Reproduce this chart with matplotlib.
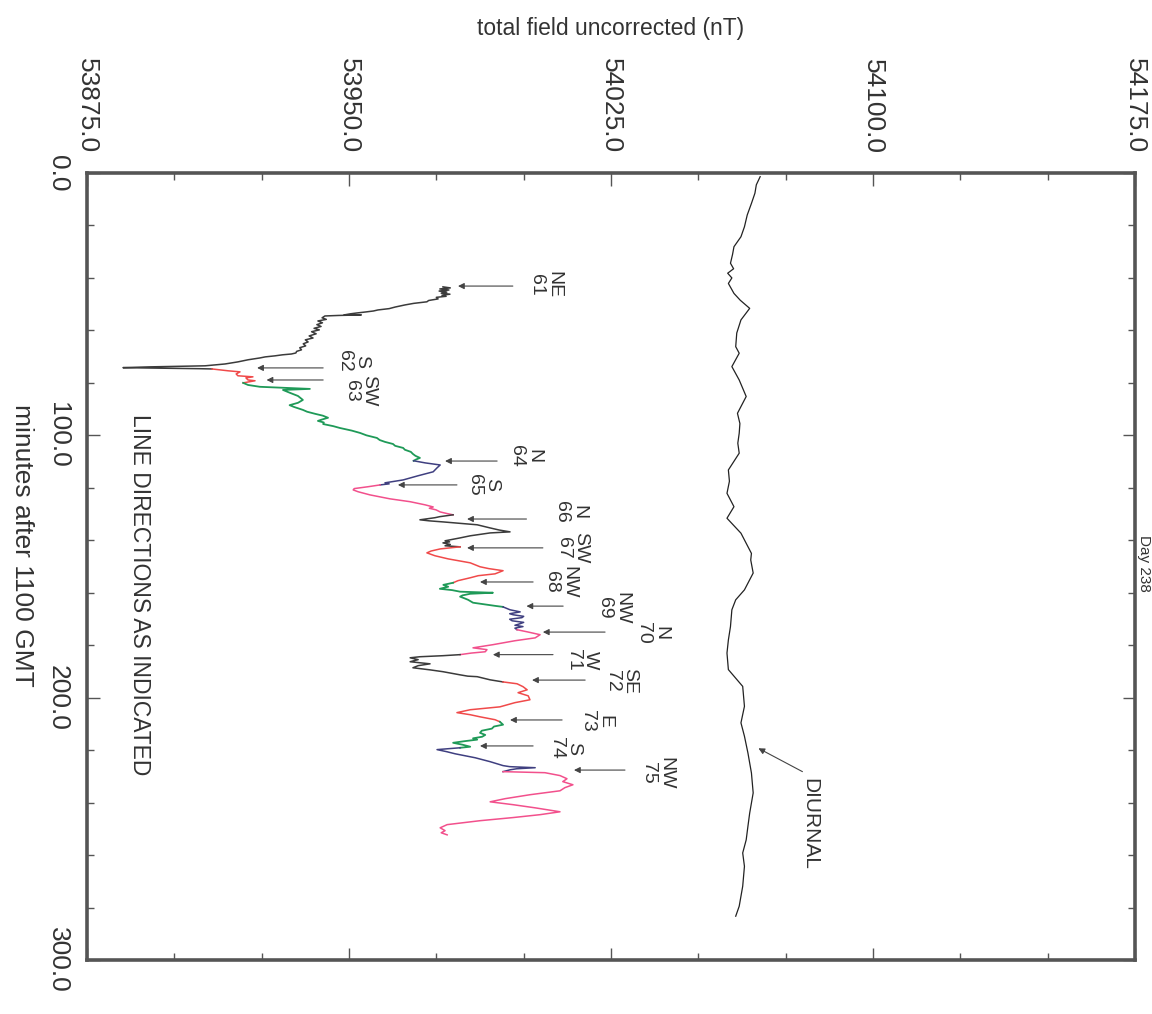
import numpy as np
import matplotlib
matplotlib.use("Agg")
import matplotlib.pyplot as plt
from matplotlib.ticker import FixedLocator, MultipleLocator, FormatStrFormatter

plt.rcParams['font.family'] = ['Liberation Sans', 'DejaVu Sans']

# ---- data read off the (rotated) chart ----
# diurnal base station record
diurnal_min = [1.4, 4.5, 7.7, 11.6, 16.0, 20.5, 24.3, 28.1, 31.0, 34.4, 36.5, 38.2, 40.0, 42.1,
               45.9, 48.5, 51.6, 56.0, 61.0, 66.2, 68.7, 73.8, 78.9, 85.2, 91.6, 95.5, 99.2,
               103.0, 106.8, 113.2, 117.5, 122.1, 127.2, 131.6, 137.3, 145.0, 147.5, 152.5,
               158.9, 162.7, 166.5, 172.9, 178.0, 183.0, 189.3, 195.7, 203.3, 209.6, 214.7,
               221.1, 228.7, 236.3, 244.0, 249.0, 254.2, 259.2, 264.3, 271.9, 279.5, 283.3]
diurnal_nt = [54067.7, 54066.6, 54066.2, 54065.2, 54064.0, 54063.2, 54062.2, 54060.2, 54059.8,
              54059.2, 54060.1, 54058.4, 54059.6, 54058.6, 54060.2, 54062.0, 54064.7, 54062.2,
              54061.0, 54060.7, 54061.7, 54059.6, 54061.7, 54063.7, 54061.2, 54061.9, 54061.7,
              54061.3, 54061.7, 54058.6, 54058.9, 54058.2, 54060.2, 54058.2, 54062.2, 54065.2,
              54065.0, 54065.7, 54063.2, 54060.7, 54059.6, 54059.2, 54058.6, 54058.2, 54058.6,
              54062.7, 54063.2, 54062.2, 54063.2, 54064.2, 54065.2, 54065.7, 54064.7, 54064.2,
              54063.7, 54062.7, 54063.2, 54062.7, 54061.7, 54060.7]

# survey track (minutes after 1100 GMT, total field nT)
track_min = [43.4, 43.8, 44.2, 44.6, 45.0, 45.4, 45.8, 46.2, 46.6, 47.0, 47.4, 48.0, 48.6, 49.1,
             49.7, 50.3, 51.1, 51.7, 52.2, 52.6, 53.0, 53.4, 53.7, 54.1, 54.1, 54.3, 54.5, 55.2,
             55.8, 56.4, 57.1, 57.8, 58.5, 59.2, 59.8, 60.5, 61.3, 62.1, 62.9, 63.6, 64.4, 65.1,
             65.9, 66.6, 67.4, 68.0, 68.6, 69.0, 69.3, 69.7, 70.1, 70.5, 71.2, 72.0, 72.8, 73.5,
             73.9, 74.2, 74.4, 74.6, 74.7,
             75.4, 75.8, 76.6, 77.3, 77.7, 78.1, 78.9, 79.2, 80.0,
             80.8, 81.5, 81.9, 82.3, 82.7, 83.8, 85.0, 86.5, 87.6, 88.5, 89.2, 90.3, 91.0, 91.8,
             92.5, 93.3, 94.0, 94.5, 95.1, 95.7, 96.5, 97.2, 98.2, 99.1, 100.0, 101.0, 101.8,
             102.5, 103.3, 104.0, 104.8, 105.5, 106.3, 107.1, 107.8, 108.6, 109.2, 109.7,
             110.5, 111.3, 112.4, 113.9, 115.4, 117.0, 118.1, 118.5, 118.9,
             119.6, 120.3, 120.8, 121.5, 122.7, 124.2, 125.3, 126.5, 127.3, 127.8, 128.4, 129.2,
             129.8, 130.3,
             131.0, 131.4, 132.2, 132.6, 133.0, 134.1, 135.3, 136.1, 136.8, 137.2, 138.3, 139.1,
             140.2, 140.6, 141.0, 141.6, 142.1, 142.5,
             143.3, 144.1, 144.8, 145.9, 147.1, 148.6, 150.1, 150.8, 151.6, 152.8, 153.5, 154.3,
             155.4, 156.2,
             157.0, 157.7, 158.5, 159.0, 159.6, 160.0, 160.4, 161.0, 161.5, 162.1, 162.7, 163.8,
             165.0, 165.4,
             166.5, 167.3, 168.0, 168.4, 169.0, 169.5, 170.1, 170.7, 171.3, 171.8, 172.4, 172.9,
             173.5, 174.1,
             174.9, 176.0, 177.2, 178.3, 179.8, 181.0, 181.7, 182.5, 183.0, 183.6,
             184.0, 184.4, 184.8, 185.5, 186.3, 187.1, 187.8, 188.6, 189.4, 190.1, 191.3, 191.8,
             192.0, 193.2, 194.0,
             194.7, 195.8, 197.0, 198.1, 199.3, 200.8, 201.9, 203.5, 204.6, 205.7, 206.5, 207.3,
             208.4, 209.2,
             210.3, 211.0, 211.8, 212.6, 213.4, 214.2, 214.9, 215.5, 216.0, 216.6, 217.2, 217.9,
             218.7, 219.1,
             219.8, 220.6, 221.4, 222.9, 224.4, 225.9, 226.3, 226.7, 227.1, 227.5, 228.2,
             228.6, 229.7, 230.9, 232.0, 233.2, 234.3, 235.5, 237.0, 238.5, 239.7, 240.8, 242.0,
             243.5, 244.6, 245.7, 246.9, 248.4, 249.6, 250.7, 251.5, 252.3]
track_nt = [53976.9, 53979.0, 53976.0, 53978.6, 53975.8, 53978.0, 53976.4, 53978.9, 53976.6,
            53977.8, 53975.0, 53975.5, 53972.8, 53972.3, 53968.5, 53966.0, 53963.2, 53961.5,
            53958.3, 53957.0, 53954.6, 53952.0, 53950.3, 53948.6, 53953.5, 53947.0, 53943.1,
            53942.3, 53943.5, 53941.1, 53942.4, 53940.8, 53942.0, 53940.0, 53941.5, 53939.3,
            53940.6, 53938.6, 53939.7, 53937.5, 53938.3, 53936.9, 53937.6, 53935.9, 53936.4,
            53935.0, 53934.8, 53933.5, 53931.0, 53928.8, 53926.0, 53924.5, 53921.1, 53918.2,
            53914.5, 53908.8, 53893.0, 53885.3, 53896.0, 53907.4, 53910.8,
            53915.4, 53918.8, 53917.7, 53918.2, 53922.5, 53920.5, 53921.1, 53923.1, 53919.7,
            53921.1, 53924.5, 53931.7, 53938.8, 53931.1, 53933.1, 53935.4, 53936.8, 53935.4,
            53933.0, 53934.3, 53936.8, 53938.0, 53940.3, 53942.5, 53944.0, 53942.2, 53941.1,
            53942.8, 53942.6, 53945.5, 53947.4, 53950.8, 53953.2, 53955.0, 53958.0, 53958.8,
            53960.3, 53962.6, 53963.2, 53965.5, 53966.0, 53967.7, 53968.3, 53969.0, 53970.3,
            53969.2, 53968.5,
            53971.8, 53976.1, 53975.2, 53974.1, 53969.8, 53965.5, 53960.3, 53961.5, 53958.9,
            53955.4, 53951.5, 53951.2, 53952.6, 53956.0, 53961.7, 53967.5, 53971.8, 53974.1,
            53973.0, 53974.9, 53976.1, 53978.0, 53979.8,
            53976.0, 53974.6, 53970.3, 53973.0, 53976.9, 53986.7, 53990.4, 53993.0, 53996.1,
            53990.4, 53984.7, 53981.8, 53977.5, 53978.8, 53976.9, 53979.0, 53977.5, 53981.8,
            53976.1, 53973.5, 53972.3, 53974.6, 53978.4, 53984.7, 53987.5, 53990.0, 53994.1,
            53991.8, 53987.0, 53984.7, 53981.2, 53979.8,
            53977.0, 53978.4, 53976.0, 53979.5, 53981.8, 53991.2, 53984.7, 53982.5, 53981.8,
            53983.0, 53984.1, 53985.5, 53991.8, 53994.1,
            53996.1, 53999.0, 53996.0, 53997.0, 54000.0, 53999.5, 53996.0, 53996.7, 54000.0,
            53999.0, 53997.5, 53999.8, 53997.5, 53998.1,
            54001.0, 54004.7, 54003.3, 53997.5, 53991.2, 53985.5, 53989.5, 53989.0, 53985.0,
            53981.8,
            53976.9, 53970.3, 53967.5, 53969.8, 53967.5, 53973.2, 53969.8, 53968.3, 53973.2,
            53976.9, 53981.8, 53984.0, 53986.7, 53990.4, 53994.1,
            53998.1, 53999.8, 54001.0, 53998.4, 54001.3, 54001.8, 53997.5, 53993.2, 53984.7,
            53980.9, 53984.7, 53987.5, 53991.8, 53993.2,
            53994.1, 53991.5, 53990.9, 53988.0, 53987.5, 53989.0, 53988.1, 53985.5, 53986.7,
            53983.0, 53979.8, 53982.4, 53984.7, 53981.8,
            53975.2, 53978.0, 53980.4, 53986.1, 53990.4, 53994.1, 53996.0, 54003.3, 53998.0,
            53996.1, 53994.1,
            54006.1, 54010.4, 54012.4, 54011.2, 54014.1, 54011.8, 54010.4, 54001.8, 53994.7,
            53990.4, 53997.0, 54003.3, 54010.4, 54004.7, 53997.0, 53987.5, 53978.1, 53976.1,
            53977.5, 53976.4, 53978.1]

# survey lines
line_ids = [61, 62, 63, 64, 65, 66, 67, 68, 69, 70, 71, 72, 73, 74, 75]
line_dirs = ['NE', 'S', 'SW', 'N', 'S', 'N', 'SW', 'NW', 'NW', 'N', 'W', 'SE', 'E', 'S', 'NW']
line_start = [43.4, 74.7, 80.0, 109.7, 118.9, 130.3, 142.5, 156.2, 165.4, 174.1, 183.6, 194.0,
              209.2, 219.1, 228.2]
line_end = 252.3
arrow_min = [43.1, 74.3, 78.9, 109.8, 118.9, 131.9, 142.9, 155.9, 165.1, 175.0, 183.6, 193.3,
             208.5, 218.4, 227.6]
arrow_head_nt = [53981.2, 53923.7, 53926.4, 53977.5, 53964.0, 53983.8, 53983.8, 53987.5, 54000.8,
                 54005.5, 53991.2, 54002.4, 53996.1, 53987.5, 54014.4]
arrow_tail_nt = [53996.9, 53942.6, 53942.6, 53992.4, 53980.9, 54000.8, 54005.5, 54002.7, 54011.3,
                 54023.3, 54008.4, 54017.6, 54011.0, 54002.7, 54029.0]
label_nt = [54006.1, 53951.1, 53953.1, 54000.5, 53988.4, 54013.3, 54013.8, 54010.4, 54025.6,
            54036.7, 54016.7, 54027.9, 54020.7, 54011.8, 54038.2]
label_min = [42.7, 71.7, 83.1, 107.9, 118.9, 129.2, 142.9, 155.9, 165.8, 175.4, 185.6, 193.7,
             208.9, 219.2, 228.7]

field_ticks = [53875, 53950, 54025, 54100, 54175]

colors = ['#3b3b3b', '#f04a4a', '#1f9a58', '#3f3f80', '#f2508c']
ink = '#333333'

fig = plt.figure(figsize=(11.52, 10.14), dpi=100)
ax = fig.add_axes([87 / 1152, 1 - 960 / 1014, 1048 / 1152, 787 / 1014])

ax.plot(diurnal_nt, diurnal_min, color='#222222', lw=0.9)

t = np.array(track_min)
f = np.array(track_nt)
bounds = line_start + [line_end]
for i in range(len(line_ids)):
    m = (t >= bounds[i]) & (t <= bounds[i + 1])
    ax.plot(f[m], t[m], color=colors[i % 5], lw=1.3 if i % 5 == 2 else 1.1)

for i in range(len(line_ids)):
    ax.annotate('', xy=(arrow_head_nt[i], arrow_min[i]), xytext=(arrow_tail_nt[i], arrow_min[i]),
                arrowprops=dict(arrowstyle='-|>', color='#444444', lw=0.8, mutation_scale=9,
                                shrinkA=0, shrinkB=0))
    ax.text(label_nt[i], label_min[i], line_dirs[i] + '\n' + str(line_ids[i]), rotation=-90,
            ha='center', va='center', multialignment='center', fontsize=14, color=ink,
            linespacing=1.05)

ax.annotate('', xy=(54067.2, 219.3), xytext=(54079.8, 228.2),
            arrowprops=dict(arrowstyle='-|>', color='#444444', lw=0.8, mutation_scale=9,
                            shrinkA=0, shrinkB=0))
ax.text(54082.0, 230.6, 'DIURNAL', rotation=-90, ha='center', va='top', fontsize=15, color=ink)
ax.text(53889.9, 160.9, 'LINE DIRECTIONS AS INDICATED', rotation=-90, ha='center', va='center',
        fontsize=16.5, color=ink)

ax.set_xlim(field_ticks[0], field_ticks[-1])
ax.set_ylim(300, 0)
ax.xaxis.set_major_locator(FixedLocator(field_ticks))
ax.xaxis.set_minor_locator(FixedLocator(np.arange(field_ticks[0], field_ticks[-1] + 1, 25)))
ax.yaxis.set_major_locator(MultipleLocator(100))
ax.yaxis.set_minor_locator(MultipleLocator(20))
ax.xaxis.set_major_formatter(FormatStrFormatter('%.1f'))
ax.yaxis.set_major_formatter(FormatStrFormatter('%.1f'))
ax.tick_params(which='both', direction='in', top=True, right=True, bottom=True, left=True,
               labeltop=True, labelbottom=False, colors='#555555', labelcolor=ink)
ax.tick_params(which='major', length=9, width=1)
ax.tick_params(which='minor', length=5, width=1)
ax.tick_params(axis='x', labelsize=19, pad=14, labelrotation=-90)
ax.tick_params(axis='y', labelsize=19, pad=12.5, labelrotation=-90)
for lab in ax.get_yticklabels():
    lab.set_va('center')
for s in ax.spines.values():
    s.set_linewidth(2.6)
    s.set_color('#555555')

fig.text(611 / 1152, 1 - 28 / 1014, 'total field uncorrected (nT)', ha='center', va='center',
         fontsize=16.5, color=ink)
fig.text(22 / 1152, 1 - 545 / 1014, 'minutes after 1100 GMT', rotation=-90, ha='center',
         va='center', fontsize=19, color=ink)
fig.text(1137 / 1152, 1 - 563 / 1014, 'Day 238', rotation=-90, ha='left', va='center',
         fontsize=11, color=ink)

fig.savefig('out.png', dpi=100)
